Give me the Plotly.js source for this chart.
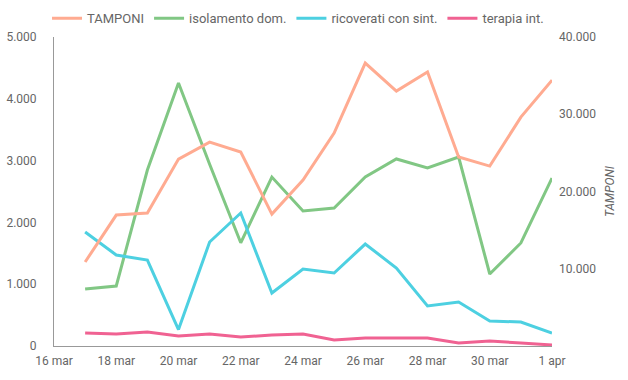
<!DOCTYPE html>
<html>
<head>
<meta charset="utf-8">
<script src="https://cdn.plot.ly/plotly-3.0.1.min.js"></script>
<style>html,body{margin:0;padding:0;background:#fff;}#chart{width:628px;height:380px;}</style>
</head>
<body>
<div id="chart"></div>
<script>
const dates = ['2020-03-17','2020-03-18','2020-03-19','2020-03-20','2020-03-21','2020-03-22','2020-03-23','2020-03-24','2020-03-25','2020-03-26','2020-03-27','2020-03-28','2020-03-29','2020-03-30','2020-03-31','2020-04-01'];
const tamponi = [10870,16950,17210,24200,26400,25100,17080,21480,27560,36620,33000,35460,24460,23290,29630,34420];
const isolamento = [922,971,2848,4255,2940,1670,2734,2184,2233,2734,3026,2880,3058,1165,1667,2718];
const ricoverati = [1845,1472,1391,265,1683,2152,858,1246,1181,1650,1262,647,712,405,388,210];
const terapia = [210,194,226,162,194,146,178,194,97,129,129,129,49,81,49,16];
const xTickVals = ['2020-03-16','2020-03-18','2020-03-20','2020-03-22','2020-03-24','2020-03-26','2020-03-28','2020-03-30','2020-04-01'];
const xTickText = ['16 mar','18 mar','20 mar','22 mar','24 mar','26 mar','28 mar','30 mar','1 apr'];

const font = {family: 'Roboto, sans-serif', size: 12, color: '#666666'};
const traces = [
  {x: dates, y: tamponi, name: 'TAMPONI', yaxis: 'y2', mode: 'lines', line: {color: '#ffab91', width: 3}},
  {x: dates, y: isolamento, name: 'isolamento dom.', mode: 'lines', line: {color: '#81c784', width: 3}},
  {x: dates, y: ricoverati, name: 'ricoverati con sint.', mode: 'lines', line: {color: '#4dd0e1', width: 3}},
  {x: dates, y: terapia, name: 'terapia int.', mode: 'lines', line: {color: '#f06292', width: 3}}
];
const layout = {
  width: 628, height: 380,
  margin: {l: 54, r: 76, t: 37, b: 34, autoexpand: false},
  paper_bgcolor: '#ffffff', plot_bgcolor: '#ffffff',
  font: font,
  separators: ',.',
  showlegend: true,
  legend: {orientation: 'h', x: 0.49, xanchor: 'center', y: 1.012, yanchor: 'bottom', yref: 'paper',
           font: {family: 'Roboto, sans-serif', size: 13, color: '#666666'}, itemwidth: 30, tracegroupgap: 0},
  xaxis: {type: 'date', range: ['2020-03-16', '2020-04-01'], tickvals: xTickVals, ticktext: xTickText,
          showgrid: false, zeroline: false, showline: true, linecolor: '#999999', linewidth: 1,
          ticks: '', ticklabelstandoff: 4, fixedrange: true, automargin: false},
  yaxis: {range: [0, 5000], tickvals: [0,1000,2000,3000,4000,5000], tickformat: ',d',
          showgrid: false, zeroline: false, showline: true, linecolor: '#999999', linewidth: 1,
          ticks: '', ticklabelstandoff: 14, automargin: false},
  yaxis2: {overlaying: 'y', side: 'right', range: [0, 40000], tickvals: [10000,20000,30000,40000], tickformat: ',d',
           showgrid: false, zeroline: false, showline: false, ticks: '', ticklabelstandoff: 6, automargin: false,
           title: {text: 'TAMPONI', font: {family: 'Roboto, sans-serif', size: 12, color: '#666666', style: 'italic'}, standoff: 10}}
};
Plotly.newPlot('chart', traces, layout, {displayModeBar: false, staticPlot: true});
</script>
</body>
</html>
